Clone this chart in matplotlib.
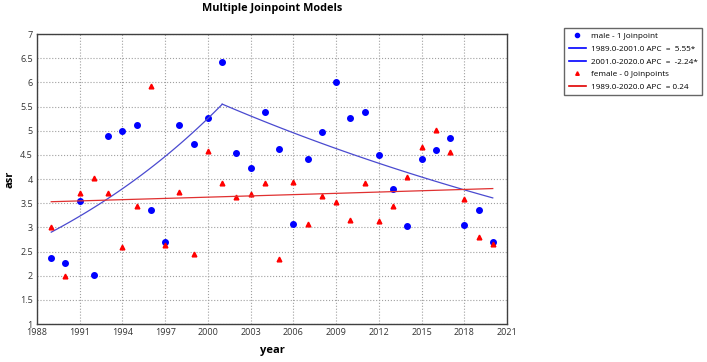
import numpy as np
import matplotlib
matplotlib.use("Agg")
import matplotlib.pyplot as plt

plt.rcParams['font.family'] = ['Open Sans', 'DejaVu Sans']

years = list(range(1989, 2021))
male = [2.37, 2.27, 3.55, 2.02, 4.88, 4.99, 5.11, 3.36, 2.69, 5.12, 4.72, 5.27,
        6.42, 4.53, 4.22, 5.39, 4.62, 3.06, 4.41, 4.97, 6.00, 5.26, 5.38, 4.49,
        3.79, 3.03, 4.41, 4.61, 4.84, 3.05, 3.35, 2.70]
female = [3.00, 2.00, 3.71, 4.03, 3.71, 2.60, 3.45, 5.93, 2.64, 3.73, 2.45, 4.58,
          3.92, 3.63, 3.68, 3.92, 2.35, 3.93, 3.07, 3.65, 3.52, 3.16, 3.91, 3.14,
          3.44, 4.05, 4.67, 5.01, 4.55, 3.58, 2.81, 2.65]

# joinpoint model segments: (start, end, value at start, APC)
male_segments = [(1989, 2001, 2.90, 5.55), (2001, 2020, 5.55, -2.24)]
female_segments = [(1989, 2020, 3.53, 0.24)]
male_labels = ["1989.0-2001.0 APC  =  5.55*", "2001.0-2020.0 APC  =  -2.24*"]
female_labels = ["1989.0-2020.0 APC  = 0.24"]

xticks = list(range(1988, 2022, 3))
yticks = [1, 1.5, 2, 2.5, 3, 3.5, 4, 4.5, 5, 5.5, 6, 6.5, 7]

fig = plt.figure(figsize=(7.07, 3.62), dpi=100)
ax = fig.add_axes([37/707, 1-324/362, 470/707, 290/362])

male_line_col = '#4a4ad0'
female_line_col = '#e03030'

h_male = ax.plot(years, male, 'o', color='#0000ff', markersize=4.0, linestyle='none',
                 label='male - 1 Joinpoint')[0]
for (s, e, v0, apc) in male_segments:
    xs = np.linspace(s, e, 50)
    ys = v0 * (1 + apc/100) ** (xs - s)
    ax.plot(xs, ys, color=male_line_col, lw=0.9)
h_female = ax.plot(years, female, '^', color='#ff0000', markersize=3.4, linestyle='none',
                   label='female - 0 Joinpoints')[0]
for (s, e, v0, apc) in female_segments:
    xs = np.linspace(s, e, 50)
    ys = v0 * (1 + apc/100) ** (xs - s)
    ax.plot(xs, ys, color=female_line_col, lw=0.9)

ax.set_xlim(1988, 2021)
ax.set_ylim(1, 7)
ax.set_xticks(xticks)
ax.set_yticks(yticks)
ax.set_yticklabels([('%g' % t) for t in yticks])
ax.tick_params(labelsize=6.5, length=0, pad=3, colors='#333333')
ax.grid(True, color='#a0a0a0', linestyle=':', linewidth=0.8)
for sp in ax.spines.values():
    sp.set_color('#404040')
    sp.set_linewidth(1.0)

ax.set_xlabel('year', fontsize=8, fontweight='bold', labelpad=6)
ax.set_ylabel('asr', fontsize=8, fontweight='bold', labelpad=3)
fig.text(272/707, 1-9/362, 'Multiple Joinpoint Models', ha='center', va='center',
         fontsize=7.8, fontweight='bold')

lm = plt.Line2D([], [], color='#0000ff', lw=1.2)
lf = plt.Line2D([], [], color='#e00000', lw=1.2)
handles = [h_male, lm, lm, h_female, lf]
labels = ['male - 1 Joinpoint'] + male_labels + ['female - 0 Joinpoints'] + female_labels
leg = fig.legend(handles, labels, loc='upper left', bbox_to_anchor=(564/707, 1-28/362),
                 fontsize=5.9, frameon=True, fancybox=False, edgecolor='#404040',
                 handlelength=2.1, borderpad=0.55, labelspacing=0.6, handletextpad=0.6,
                 borderaxespad=0, markerscale=0.75)
leg.get_frame().set_linewidth(1.0)

fig.savefig('out.png', dpi=100)
